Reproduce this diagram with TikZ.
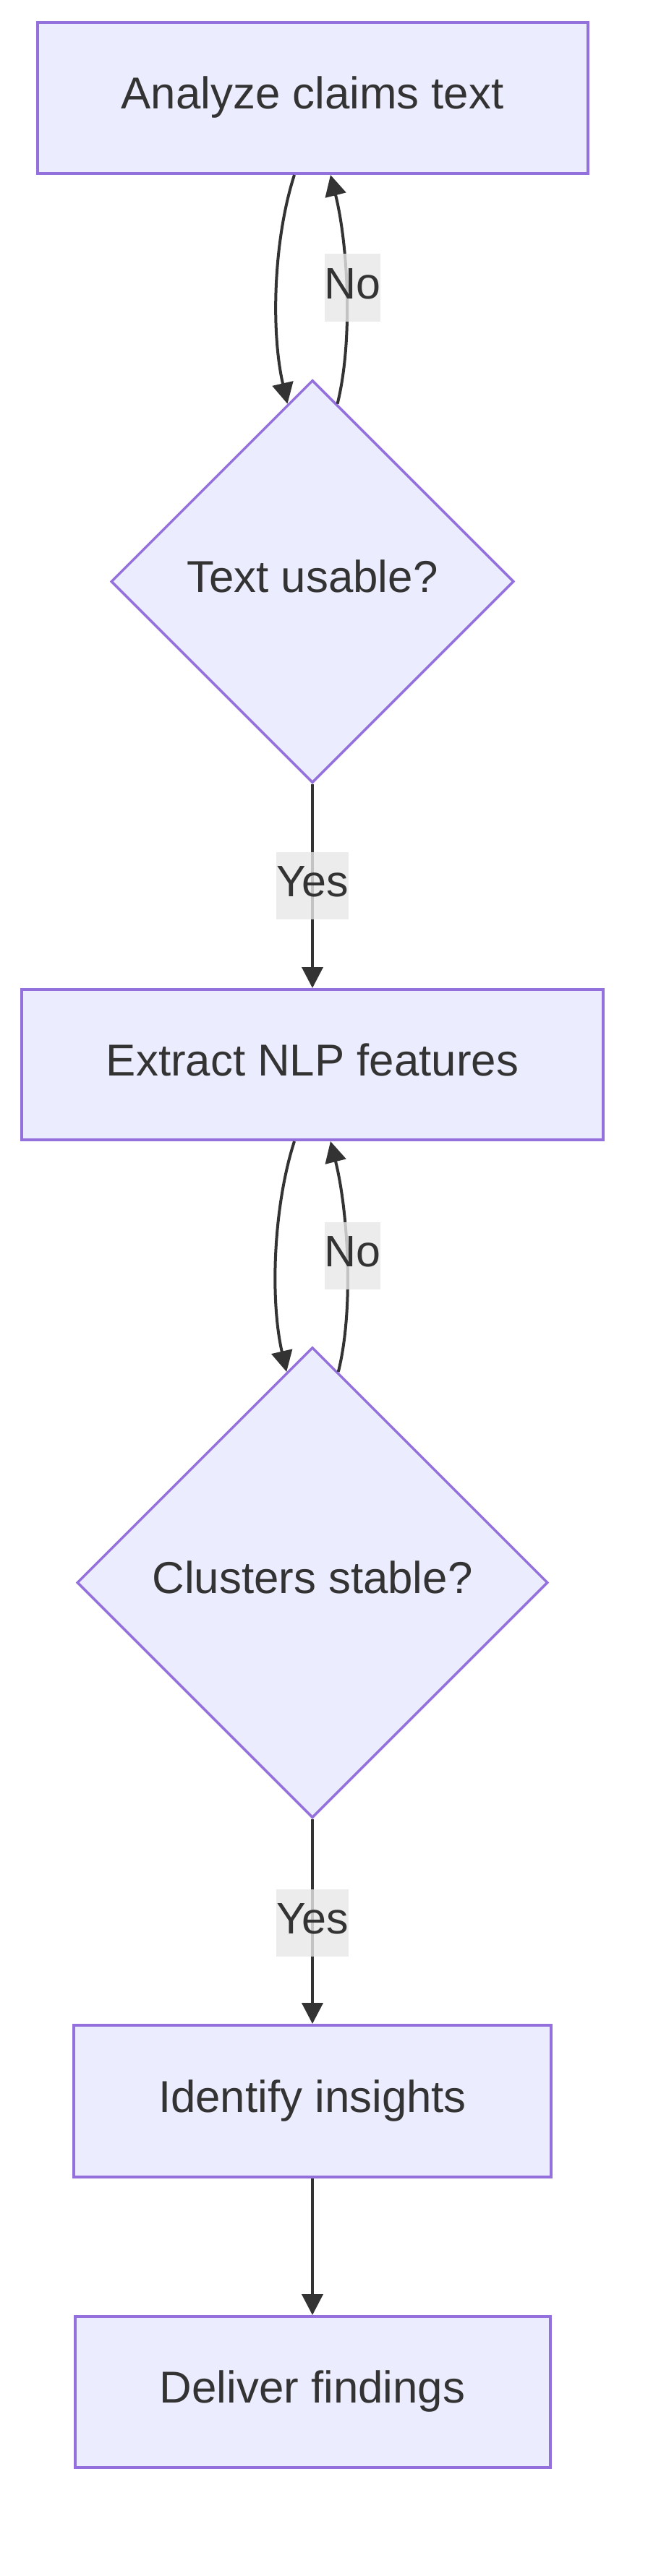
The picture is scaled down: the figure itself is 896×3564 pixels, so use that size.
\documentclass[tikz,border=0pt]{standalone}
\usepackage{fontspec}
\setmainfont{Liberation Sans}
\usetikzlibrary{shapes.geometric,arrows.meta}
\definecolor{nodefill}{HTML}{ECECFF}
\definecolor{nodeline}{HTML}{9370DB}
\definecolor{edgecol}{HTML}{333333}
\definecolor{textcol}{HTML}{333333}
\definecolor{lblfill}{HTML}{E8E8E8}
\begin{document}
\begin{tikzpicture}[x=1pt,y=-1pt,
  every node/.style={font=\fontsize{61}{73}\selectfont, text=textcol, text height=45.75pt, text depth=15.25pt},
  procbox/.style={rectangle, draw=nodeline, fill=nodefill, line width=4pt, inner sep=0pt, minimum height=209pt, font=\fontsize{61.8}{74}\selectfont},
  decision/.style={diamond, draw=nodeline, fill=nodefill, line width=3.5pt, inner sep=0pt, aspect=1, font=\fontsize{61.8}{74}\selectfont},
  edgelabel/.style={fill=lblfill, fill opacity=0.8, text opacity=1, inner sep=0pt, minimum height=93pt},
  flow/.style={draw=edgecol, line width=4pt, -{Triangle[length=29pt,width=29pt]}}]
\useasboundingbox[fill=white] (0,0) rectangle (896,3564);

\node[procbox, minimum width=761pt] (b1) at (432,135.5) {Analyze claims text};
\node[decision, minimum width=557pt, minimum height=557pt] (d1) at (432,804.5) {Text usable?};
\node[procbox, minimum width=804pt, minimum height=208pt] (b2) at (432,1473) {Extract NLP features};
\node[decision, minimum width=651pt, minimum height=651pt] (d2) at (432,2189.5) {Clusters stable?};
\node[procbox, minimum width=660pt, minimum height=210pt] (b3) at (432,2907) {Identify insights};
\node[procbox, minimum width=657pt, minimum height=209pt] (b4) at (432,3309.5) {Deliver findings};

\draw[flow] ([xshift=-25pt]b1.south) .. controls +(-29,90) and +(-23,-100) .. (d1.98);
\draw[flow] (d1.82) .. controls +(22,-88) and +(24,95) .. ([xshift=25pt]b1.south);
\draw[flow] (d1.south) -- (b2.north);
\draw[flow] ([xshift=-25pt]b2.south) .. controls +(-29,90) and +(-23,-100) .. (d2.97);
\draw[flow] (d2.83) .. controls +(22,-88) and +(24,95) .. ([xshift=25pt]b2.south);
\draw[flow] (d2.south) -- (b3.north);
\draw[flow] (b3.south) -- (b4.north);

\node[edgelabel, minimum width=77pt] (no1) at (487.5,398) {No};
\node[edgelabel, minimum width=100pt] (yes1) at (432,1225) {Yes};
\node[edgelabel, minimum width=77pt] (no2) at (487.5,1737) {No};
\node[edgelabel, minimum width=100pt] (yes2) at (432,2660) {Yes};
\end{tikzpicture}
\end{document}
